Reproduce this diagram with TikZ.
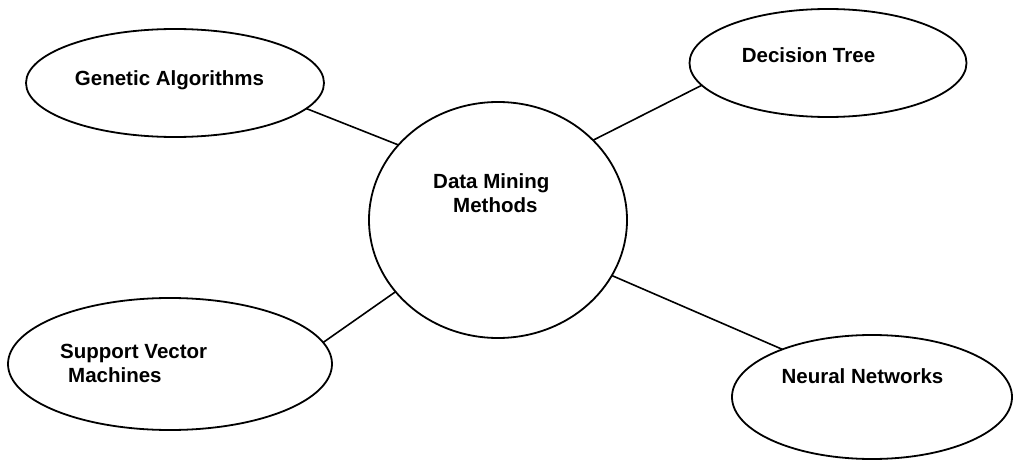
\documentclass[tikz,border=0pt]{standalone}
\usepackage{fontspec}
\setmainfont{Liberation Sans}
\usetikzlibrary{shapes.geometric}
\begin{document}
\begin{tikzpicture}[x=1pt,y=-1pt,
  bubble/.style={ellipse, draw=black, line width=1.8pt, inner sep=0pt, outer sep=0pt},
  tag/.style={font=\bfseries\fontsize{20.5}{24}\selectfont, inner sep=0pt, text=black},
  link/.style={draw=black, line width=1.6pt}]
\path[fill=white] (0,0) rectangle (1013,460);
\useasboundingbox (0,0) rectangle (1013,460);

% outer method bubbles and the central hub
\node[bubble, minimum width=298pt, minimum height=108pt] (ga)  at (175,83)  {};
\node[bubble, minimum width=277pt, minimum height=108pt] (dt)  at (828,63)  {};
\node[bubble, minimum width=324pt, minimum height=132pt] (svm) at (170,364) {};
\node[bubble, minimum width=280pt, minimum height=124pt] (nn)  at (872,397) {};
\node[bubble, minimum width=258pt, minimum height=236pt] (dm)  at (498,220) {};

% labels (two-line labels are anchored at the baseline of their last line)
\node[tag, anchor=base] (tga) at (169.5,86) {Genetic Algorithms};
\node[tag, anchor=base] (tdt) at (808.5,63) {Decision Tree};
\node[tag, anchor=base] (tnn) at (862.5,383) {Neural Networks};
\node[tag, anchor=base west, align=left] (tdm) at (433,212) {Data Mining\\\hspace{20pt}Methods};
\node[tag, anchor=base west, align=left] (tsvm) at (60,382) {Support Vector\\\hspace{8pt}Machines};

% spokes from the hub
\draw[link] (ga.-11.5) -- (dm.143.5);
\draw[link] (dt.190) -- (dm.40.6);
\draw[link] (svm.8.2) -- (dm.215.2);
\draw[link] (nn.152.4) -- (dm.-26.8);
\end{tikzpicture}
\end{document}
